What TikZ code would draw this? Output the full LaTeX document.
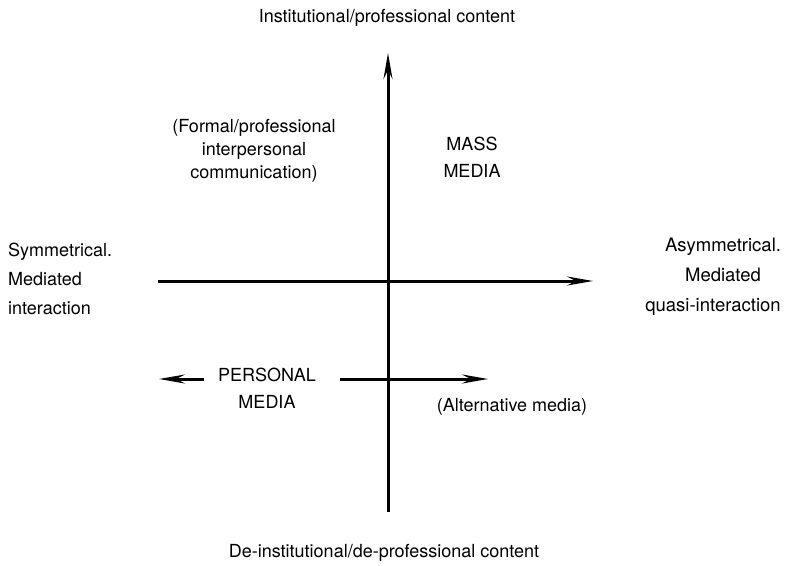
\documentclass[tikz,border=0pt]{standalone}
\usepackage{fontspec}
\setmainfont{TeX Gyre Heros}
\usetikzlibrary{arrows.meta}
\begin{document}
\begin{tikzpicture}[x=1pt,y=-1pt,
  axis/.style={line width=3pt,-{Stealth[length=26pt,width=9pt,inset=9pt]}},
  lbl/.style={font=\fontsize{18}{29}\selectfont,align=center,inner sep=0pt},
  lbll/.style={font=\fontsize{18}{29}\selectfont,align=left,inner sep=0pt,anchor=west}]
\useasboundingbox (0,0) rectangle (787,565);
\coordinate (vb) at (388,512);
\coordinate (vt) at (388,53);
\coordinate (hl) at (158,281);
\coordinate (hr) at (593,281);
\coordinate (ls) at (204,379);
\coordinate (le) at (159,379);
\coordinate (rs) at (340,379);
\coordinate (re) at (488,379);
\draw[axis] (vb) -- (vt);
\draw[axis] (hl) -- (hr);
\draw[axis] (ls) -- (le);
\draw[axis] (rs) -- (re);
\node[lbl] (top) at (387,18) {Institutional/professional content};
\node[lbl] (bot) at (384,553) {De-institutional/de-professional content};
\node[lbl,font=\fontsize{18}{23}\selectfont] (formal) at (254,151) {(Formal/professional\\interpersonal\\communication)};
\node[lbl,font=\fontsize{18}{27}\selectfont] (mass) at (472,157) {MASS\\MEDIA};
\node[lbll] (sym) at (8,279) {Symmetrical.\\Mediated\\interaction};
\node[lbl,font=\fontsize{18.5}{30}\selectfont] (asym) at (713,277) {\hspace*{20pt}Asymmetrical.\\\hspace*{20pt}Mediated\\quasi-interaction};
\node[lbl,font=\fontsize{18}{27}\selectfont] (pers) at (267,388) {PERSONAL\\MEDIA};
\node[lbl] (alt) at (512,407) {(Alternative media)};
\end{tikzpicture}
\end{document}
